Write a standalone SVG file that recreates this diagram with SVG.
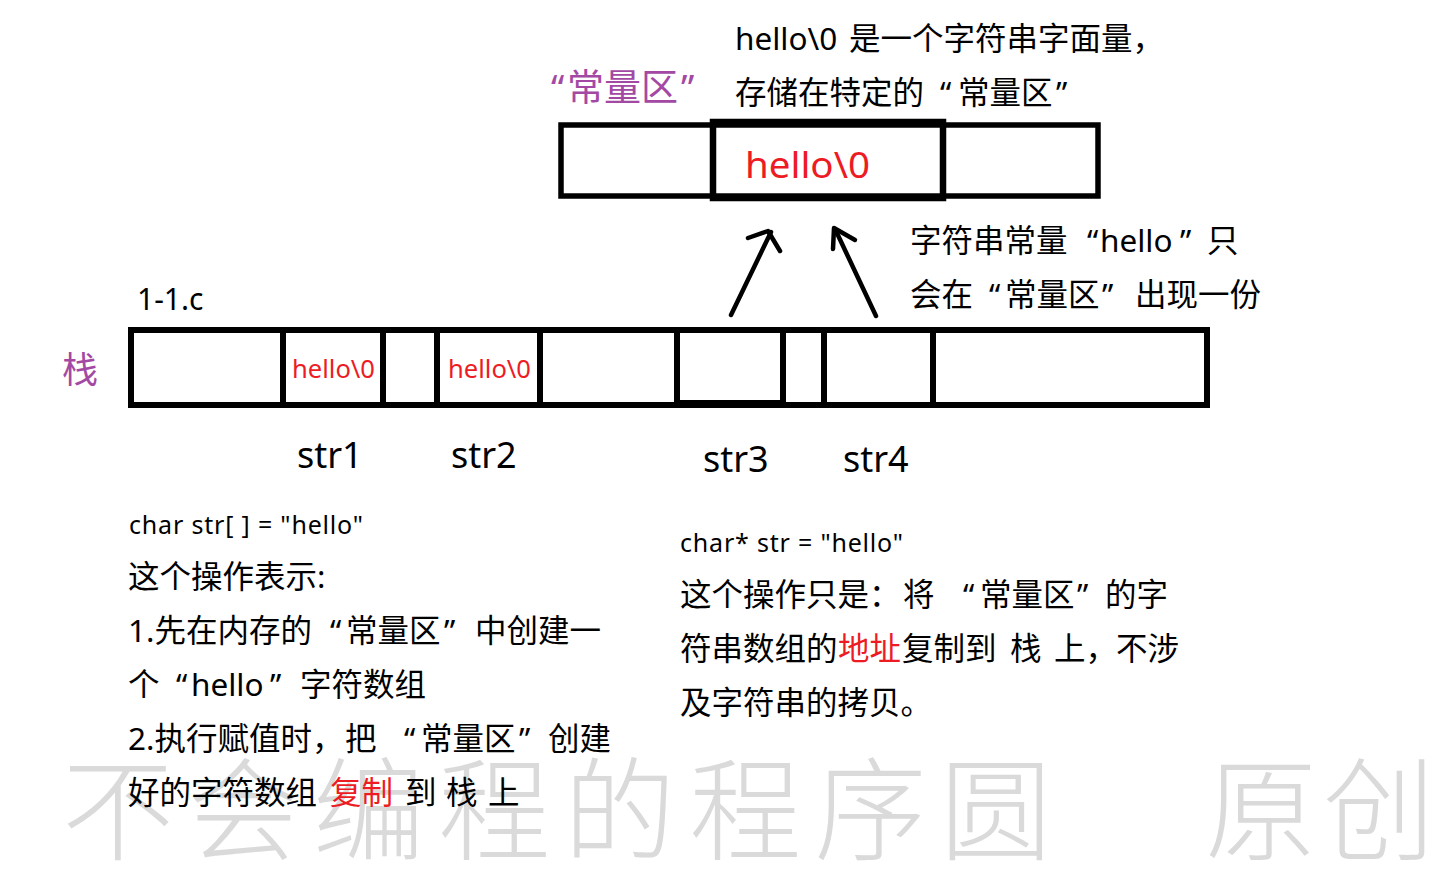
<svg xmlns="http://www.w3.org/2000/svg" width="1451" height="874" viewBox="0 0 1451 874">
<style>
text{font-family:"Noto Sans","Noto Sans CJK SC",sans-serif;fill:#000}
.b{font-size:31.5px}
.s{font-size:25px}
.lbl{font-size:36px}
.red{fill:#ed1c24}
.pur{fill:#a349a4}
.box{fill:none;stroke:#000;stroke-width:6}
.arr{fill:none;stroke:#000;stroke-width:4.5;stroke-linecap:round;stroke-linejoin:round}
.wm{font-family:"Noto Sans CJK SC",sans-serif;font-size:112px;fill:#dadada;font-weight:300}
</style>
<rect width="1451" height="874" fill="#fff"/>

<g id="watermark">
<text class="wm" x="62" y="852" textLength="990" lengthAdjust="spacing">不会编程的程序圆</text>
<text class="wm" x="1205" y="852" textLength="230" lengthAdjust="spacing">原创</text>
</g>

<g id="constant-area">
<text class="pur" y="101" style="font-size:37px"><tspan x="551">“</tspan><tspan x="567">常量区</tspan><tspan x="681">”</tspan></text>
<rect class="box" x="561" y="125" width="537" height="71" style="stroke-width:5.5"/>
<rect class="box" x="713" y="122" width="230" height="76" style="stroke-width:6.5"/>
<text class="red" x="745" y="178" style="font-size:37px" textLength="125" lengthAdjust="spacingAndGlyphs">hello\0</text>
</g>

<g id="constant-note">
<text class="b" y="50"><tspan x="735">hello\0</tspan><tspan x="849">是一个字符串字面量，</tspan></text>
<text class="b" y="104"><tspan x="735">存储在特定的</tspan><tspan x="940">“</tspan><tspan x="958">常量区</tspan><tspan x="1056">”</tspan></text>
</g>

<g id="stack">
<text class="pur" x="62" y="383" style="font-size:36px">栈</text>
<text x="137" y="310" style="font-size:30px">1-1.c</text>
<rect class="box" x="131" y="330" width="1076" height="75"/>
<line class="box" x1="283" y1="330" x2="283" y2="405"/>
<line class="box" x1="383" y1="330" x2="383" y2="405"/>
<line class="box" x1="437" y1="330" x2="437" y2="405"/>
<line class="box" x1="540" y1="330" x2="540" y2="405"/>
<line class="box" x1="677" y1="330" x2="677" y2="405"/>
<line class="box" x1="678" y1="402" x2="783" y2="402" style="stroke-width:4"/>
<line class="box" x1="783" y1="330" x2="783" y2="405"/>
<line class="box" x1="824" y1="330" x2="824" y2="405"/>
<line class="box" x1="933" y1="330" x2="933" y2="405"/>
<text class="red" x="292" y="378" style="font-size:25px" textLength="83" lengthAdjust="spacingAndGlyphs">hello\0</text>
<text class="red" x="448" y="378" style="font-size:25px" textLength="83" lengthAdjust="spacingAndGlyphs">hello\0</text>
</g>

<g id="var-labels">
<text class="lbl" x="297" y="468">str1</text>
<text class="lbl" x="451" y="468">str2</text>
<text class="lbl" x="703" y="472">str3</text>
<text class="lbl" x="843" y="472">str4</text>
</g>

<g id="connectors">
<line class="arr" x1="731" y1="315" x2="771" y2="232"/>
<polyline class="arr" points="748,238 768,231 780,251"/>
<line class="arr" x1="876" y1="316" x2="836" y2="231"/>
<polyline class="arr" points="833,249 834,228 855,240"/>
</g>

<g id="only-once-note">
<text class="b" y="252"><tspan x="910">字符串常量</tspan><tspan x="1087">“</tspan><tspan x="1100">hello</tspan><tspan x="1180">”</tspan><tspan x="1207">只</tspan></text>
<text class="b" y="306"><tspan x="910">会在</tspan><tspan x="989">“</tspan><tspan x="1005">常量区</tspan><tspan x="1102">”</tspan><tspan x="1135">出现一份</tspan></text>
</g>

<g id="array-note">
<text class="s" x="129" y="534" textLength="234" lengthAdjust="spacing">char str[ ] = "hello"</text>
<text class="b" x="128" y="588">这个操作表示:</text>
<text class="b" y="642"><tspan x="128">1.先在内存的</tspan><tspan x="330">“</tspan><tspan x="346">常量区</tspan><tspan x="444">”</tspan><tspan x="475">中创建一</tspan></text>
<text class="b" y="696"><tspan x="128">个</tspan><tspan x="176">“</tspan><tspan x="191">hello</tspan><tspan x="270">”</tspan><tspan x="300">字符数组</tspan></text>
<text class="b" y="750"><tspan x="128">2.执行赋值时，</tspan><tspan x="345">把</tspan><tspan x="404">“</tspan><tspan x="421">常量区</tspan><tspan x="519">”</tspan><tspan x="548">创建</tspan></text>
<text class="b" y="804"><tspan x="128">好的字符数组</tspan><tspan x="330" class="red">复制</tspan><tspan x="405">到</tspan><tspan x="446">栈</tspan><tspan x="488">上</tspan></text>
</g>

<g id="pointer-note">
<text class="s" x="680" y="552" textLength="223" lengthAdjust="spacing">char* str = "hello"</text>
<text class="b" y="606"><tspan x="680">这个操作只是：</tspan><tspan x="903">将</tspan><tspan x="963">“</tspan><tspan x="980">常量区</tspan><tspan x="1077">”</tspan><tspan x="1105">的字</tspan></text>
<text class="b" y="660"><tspan x="680">符串数组的</tspan><tspan x="838" class="red">地址</tspan><tspan x="902">复制到</tspan><tspan x="1010">栈</tspan><tspan x="1054">上，</tspan><tspan x="1116">不涉</tspan></text>
<text class="b" x="680" y="714">及字符串的拷贝。</text>
</g>
</svg>
